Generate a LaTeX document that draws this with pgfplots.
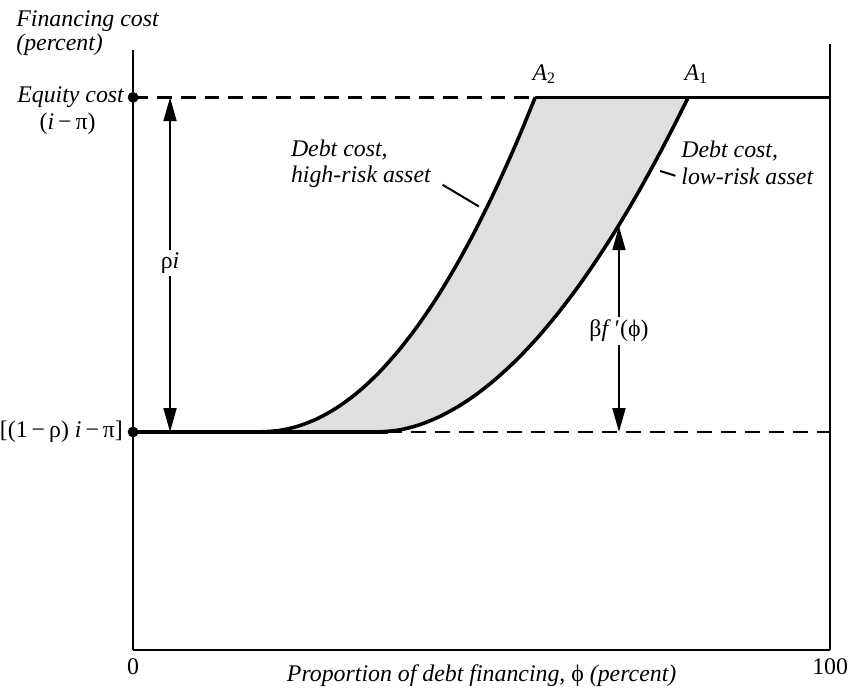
\documentclass[border=0pt]{standalone}
\usepackage{fontspec}
\setmainfont{Liberation Serif}
\usepackage{pgfplots}
\pgfplotsset{compat=1.18}
\usepgfplotslibrary{fillbetween}
\usetikzlibrary{arrows.meta}
\begin{document}
\fontsize{12}{14}\selectfont
\begin{tikzpicture}[font=\fontsize{12}{14}\selectfont]
\begin{axis}[
  scale only axis, width=351pt, height=302.5pt,
  xmin=0, xmax=100, ymin=0, ymax=100,
  axis lines*=left, axis line style={line width=1pt},
  xtick={0,100}, xticklabels={0,100}, ytick=\empty,
  major tick length=0pt, clip=false,
  tick label style={font=\fontsize{12}{14}\selectfont},
]
% curves (paths for the fill)
\addplot[draw=none, name path=H, smooth, forget plot] coordinates {
 (18.09,36.36) (20.94,36.60) (23.79,37.37) (26.64,38.69) (29.49,40.59) (32.34,43.07) (35.19,46.15) (38.03,49.83) (40.88,54.11) (43.73,59.00) (46.58,64.54) (49.43,70.67) (52.28,77.45) (55.13,84.86) (57.69,92.06)};
\addplot[draw=none, name path=L, smooth, forget plot] coordinates {
 (35.19,36.36) (38.03,36.66) (40.88,37.48) (43.73,38.79) (46.58,40.56) (49.43,42.77) (52.28,45.43) (55.13,48.51) (57.98,52.01) (60.83,55.95) (63.68,60.29) (66.52,65.04) (69.37,70.19) (72.22,75.75) (75.07,81.72) (77.92,88.06) (79.63,92.06)};
\addplot[gray!25, forget plot] fill between[of=H and L];
% horizontal levels
\addplot[line width=1.2pt, dash pattern=on 7.5pt off 4.5pt] coordinates {(0,92.06) (57.69,92.06)};
\addplot[line width=1.6pt] coordinates {(57.69,92.06) (100,92.06)};
\addplot[line width=1.6pt] coordinates {(0,36.36) (36.5,36.36)};
\addplot[line width=1.3pt, dash pattern=on 7.5pt off 4.5pt] coordinates {(36.5,36.36) (100,36.36)};
% debt cost curves
\addplot[line width=1.8pt, smooth] coordinates {
 (18.09,36.36) (20.94,36.60) (23.79,37.37) (26.64,38.69) (29.49,40.59) (32.34,43.07) (35.19,46.15) (38.03,49.83) (40.88,54.11) (43.73,59.00) (46.58,64.54) (49.43,70.67) (52.28,77.45) (55.13,84.86) (57.69,92.06)};
\addplot[line width=1.8pt, smooth] coordinates {
 (35.19,36.36) (38.03,36.66) (40.88,37.48) (43.73,38.79) (46.58,40.56) (49.43,42.77) (52.28,45.43) (55.13,48.51) (57.98,52.01) (60.83,55.95) (63.68,60.29) (66.52,65.04) (69.37,70.19) (72.22,75.75) (75.07,81.72) (77.92,88.06) (79.63,92.06)};
% dots on the axis
\addplot[only marks, mark=*, mark size=2.5pt] coordinates {(0,92.06) (0,36.36)};
% right frame line
\draw[line width=1pt] (axis cs:100,0) -- (axis cs:100,101);
% rho i arrow
\draw[line width=1pt, -{Triangle[length=12pt,width=6.5pt]}] (axis cs:5.3,66.6) -- (axis cs:5.3,92.06);
\draw[line width=1pt, -{Triangle[length=12pt,width=6.5pt]}] (axis cs:5.3,62.3) -- (axis cs:5.3,36.36);
\node at (axis cs:5.3,64.5) {ρ\textit{i}};
% beta f'(phi) arrow
\draw[line width=1pt, -{Triangle[length=12pt,width=6.5pt]}] (axis cs:69.7,55.5) -- (axis cs:69.7,70.6);
\draw[line width=1pt, -{Triangle[length=12pt,width=6.5pt]}] (axis cs:69.7,50.9) -- (axis cs:69.7,36.36);
\node at (axis cs:69.7,53.2) {β\textit{f}\,′(ϕ)};
% labels
\node[anchor=south] at (axis cs:59.0,92.9) {\textit{A}\textsubscript{2}};
\node[anchor=south] at (axis cs:80.8,92.9) {\textit{A}\textsubscript{1}};
\node[anchor=north west, align=left, font=\fontsize{12}{13.5}\selectfont\itshape, inner sep=0pt] at (axis cs:22.6,85.1) {Debt cost,\\high-risk asset};
\draw[line width=1pt] (axis cs:44.4,77.5) -- (axis cs:49.6,73.9);
\node[anchor=north west, align=left, font=\fontsize{12}{13.5}\selectfont\itshape, inner sep=0pt] at (axis cs:78.6,84.8) {Debt cost,\\low-risk asset};
\draw[line width=1pt] (axis cs:75.6,79.8) -- (axis cs:77.8,79.0);
\node[anchor=east, inner sep=0pt] at (axis cs:-1.2,92.06) {\textit{Equity cost}};
\node at (axis cs:-9.4,87.6) {(\textit{i}\,−\,π)};
\node[anchor=east, inner sep=0pt] at (axis cs:-1.4,36.36) {[(1\,−\,ρ) \textit{i}\,−\,π]};
\node[anchor=north west, align=left, font=\fontsize{12}{12.5}\selectfont\itshape, inner sep=0pt] at (axis cs:-16.8,106.6) {Financing cost\\(percent)};
\node at (axis cs:50,-4.2) {\textit{Proportion of debt financing,} ϕ \textit{(percent)}};
% page frame
\path (axis cs:-18.95,-7.11) rectangle (axis cs:103.0,108.26);
\end{axis}
\end{tikzpicture}
\end{document}
